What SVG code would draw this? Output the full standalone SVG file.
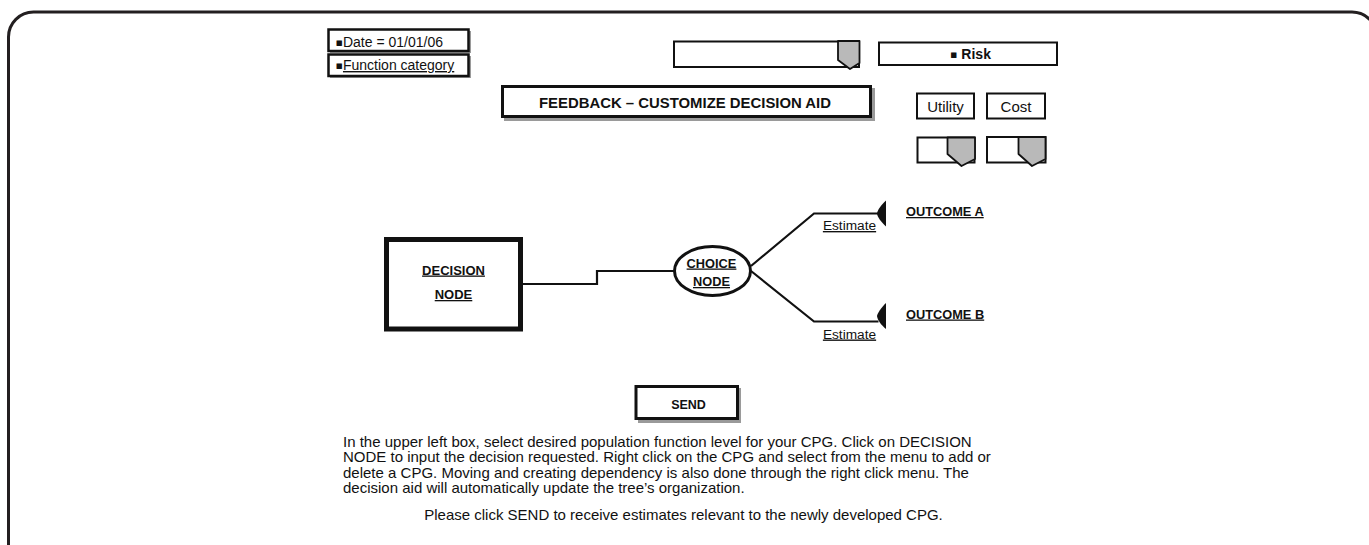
<svg xmlns="http://www.w3.org/2000/svg" width="1369" height="545" viewBox="0 0 1369 545">
<style>
text{font-family:"Liberation Sans",Arial,sans-serif;fill:#111}
.b{font-weight:bold}
.u{text-decoration:underline}
.bul{font-family:"DejaVu Sans",sans-serif}
.box{fill:#fff;stroke:#111;stroke-width:2.5}
.thin{fill:#fff;stroke:#111;stroke-width:2}
.sh{fill:#9a9a9a}
.handle{fill:#b9b9b9;stroke:#111;stroke-width:1.8;stroke-linejoin:round}
.line{fill:none;stroke:#111;stroke-width:2.2}
.mark{fill:#111}
</style>
<rect width="1369" height="545" fill="#fff"/>
<path d="M8.5,545 V37 A25,25 0 0 1 33.5,12 H1352 A25,25 0 0 1 1377,37 V545" fill="none" stroke="#231f20" stroke-width="3"/>

<g id="date">
<rect class="sh" x="330" y="31" width="141" height="22"/>
<rect class="box" x="328.5" y="29.5" width="140" height="21.5"/>
<text x="335.5" y="46.5" font-size="14"><tspan class="bul" font-size="11" baseline-shift="1.5">▪</tspan>Date = 01/01/06</text>
</g>
<g id="function-category">
<rect class="sh" x="330" y="56" width="141" height="22"/>
<rect class="box" x="328.5" y="54.5" width="140" height="21.5"/>
<text x="335.5" y="70" font-size="14"><tspan class="bul" font-size="11" baseline-shift="1.5">▪</tspan><tspan class="u">Function category</tspan></text>
</g>

<g id="feedback">
<rect class="sh" x="504" y="88" width="371" height="33"/>
<rect x="502.5" y="86.5" width="368" height="30" fill="#fff" stroke="#111" stroke-width="3"/>
<text class="b" x="685" y="108" font-size="14.9" text-anchor="middle">FEEDBACK – CUSTOMIZE DECISION AID</text>
</g>

<g id="slider-main">
<rect class="thin" x="674" y="41.5" width="185" height="25.5"/>
<polygon class="handle" points="838,41 838,60 850,69 859.5,63 859.5,41"/>
</g>

<g id="risk">
<rect class="thin" x="879" y="42.5" width="178" height="22.5"/>
<text class="b" x="950" y="58.5" font-size="14"><tspan class="bul" font-size="11" baseline-shift="1.5">▪</tspan> Risk</text>
</g>

<g id="utility">
<rect class="thin" x="917" y="93.5" width="57" height="25"/>
<text x="945.5" y="112" font-size="15" text-anchor="middle">Utility</text>
</g>
<g id="cost">
<rect class="thin" x="987" y="93.5" width="58" height="25"/>
<text x="1016" y="112" font-size="15" text-anchor="middle">Cost</text>
</g>

<g id="slider-utility">
<rect class="thin" x="917.5" y="137.5" width="57" height="25"/>
<polygon class="handle" points="947.5,137.5 947.5,154 961.5,166 975,159 975,137.5"/>
</g>
<g id="slider-cost">
<rect class="thin" x="987" y="137" width="58.5" height="25.5"/>
<polygon class="handle" points="1018.5,137 1018.5,154 1032,166 1045.5,159 1045.5,137"/>
</g>

<g id="connectors">
<polyline class="line" points="523,284 597,284 597,271 674,271" stroke-width="2.5"/>
<polyline class="line" points="751,266 814,213.5 878.5,213.5"/>
<polyline class="line" points="751,271 814,321.5 878.5,321.5"/>
<path class="mark" d="M886,200.5 C881,205 877.5,210 877,213.5 C877.5,217 881,222 886,226.5 Z"/>
<path class="mark" d="M886,303 C881,308 877.5,313 877,316 C877.5,320 881,325 886,329 Z"/>
</g>

<g id="decision-node">
<rect x="386.5" y="239.5" width="134" height="89.5" fill="#fff" stroke="#111" stroke-width="5"/>
<text class="b u" x="453.5" y="274.5" font-size="13" text-anchor="middle">DECISION</text>
<text class="b u" x="453.5" y="299" font-size="13" text-anchor="middle">NODE</text>
</g>

<g id="choice-node">
<ellipse cx="712.5" cy="271" rx="38" ry="24.5" fill="#fff" stroke="#111" stroke-width="3"/>
<text class="b u" x="711.5" y="267.5" font-size="12.8" text-anchor="middle">CHOICE</text>
<text class="b u" x="711.5" y="286" font-size="12.8" text-anchor="middle">NODE</text>
</g>

<g id="outcome-a">
<text class="u" x="849.5" y="230" font-size="13.7" text-anchor="middle">Estimate</text>
<text class="b u" x="906" y="216" font-size="12.8">OUTCOME A</text>
</g>
<g id="outcome-b">
<text class="u" x="849.5" y="338.5" font-size="13.7" text-anchor="middle">Estimate</text>
<text class="b u" x="906" y="318.5" font-size="12.8">OUTCOME B</text>
</g>

<g id="send">
<rect class="sh" x="638" y="388" width="103" height="35"/>
<rect x="636" y="386.5" width="101.5" height="32" fill="#fff" stroke="#111" stroke-width="3"/>
<text class="b" x="688.5" y="409" font-size="12.5" text-anchor="middle">SEND</text>
</g>

<g id="instructions">
<text x="343" y="446.7" font-size="15">In the upper left box, select desired population function level for your CPG. Click on DECISION</text>
<text x="343" y="462.3" font-size="15">NODE to input the decision requested. Right click on the CPG and select from the menu to add or</text>
<text x="343" y="477.7" font-size="15">delete a CPG. Moving and creating dependency is also done through the right click menu. The</text>
<text x="343" y="492.8" font-size="15">decision aid will automatically update the tree’s organization.</text>
<text x="683.5" y="520" font-size="15" text-anchor="middle">Please click SEND to receive estimates relevant to the newly developed CPG.</text>
</g>
</svg>
